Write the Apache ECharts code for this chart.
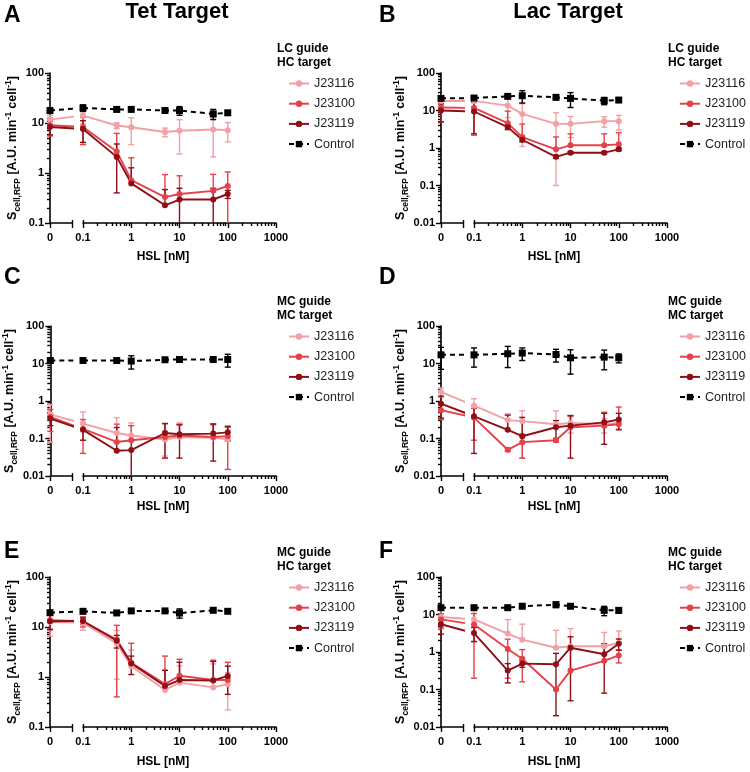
<!DOCTYPE html>
<html>
<head>
<meta charset="utf-8">
<script src="https://cdn.jsdelivr.net/npm/echarts@6/dist/echarts.min.js"></script>
<style>
  html, body { margin: 0; background: #fff; }
  #chart { width: 750px; height: 772px; }
</style>
</head>
<body>
<div id="chart"></div>
<script>
// HSL doses (nM); 0 sits on its own axis segment before the break
const doses = [0, 0.1, 0.5, 1, 5, 10, 50, 100];
const names = ['J23116', 'J23100', 'J23119', 'Control'];
const xTicks = [0.1, 1, 10, 100, 1000];

// A - Tet target, LC guide / HC target
const A_J23116 = [11.7, 14.1, 8.9, 8.2, 6.6, 7.0, 7.4, 7.2];
const A_J23116_sd = [2.5, 4.5, 1.2, 4.5, 1.3, 4.6, 5.3, 3.0];
const A_J23100 = [9.0, 8.3, 2.7, 0.72, 0.33, 0.38, 0.44, 0.55];
const A_J23100_sd = [3.5, 4.6, 3.5, 1.3, 0.6, 0.5, 0.5, 0.5];
const A_J23119 = [8.3, 7.6, 2.1, 0.62, 0.226, 0.295, 0.295, 0.38];
const A_J23119_sd = [2.5, 3.5, 1.7, 0.65, 0.24, 0.2, 0.2, 0.07];
const A_Control = [17.8, 20, 18.7, 18.7, 17.8, 17.8, 15.2, 16];
const A_Control_sd = [2, 3, 1, 1, 1, 3.5, 3.5, 1];

// B - Lac target, LC guide / HC target
const B_J23116 = [18, 18, 13.5, 8.1, 4.4, 4.4, 5.2, 5.2];
const B_J23116_sd = [4, 5, 7, 7, 4.3, 2.5, 1.6, 2.2];
const B_J23100 = [12, 11.7, 4.6, 1.95, 0.92, 1.18, 1.18, 1.25];
const B_J23100_sd = [7, 9.5, 5, 2.4, 1.05, 1.2, 1.2, 1.3];
const B_J23119 = [10, 9.4, 3.6, 1.66, 0.58, 0.75, 0.75, 0.92];
const B_J23119_sd = [5, 7, 0.5, 0.2, 0.05, 0.05, 0.05, 0.08];
const B_Control = [21, 21.5, 23.8, 24.8, 22.4, 21, 18.3, 19];
const B_Control_sd = [2, 2, 1, 9, 1, 9, 4, 1.5];

// C - Tet target, MC guide / MC target
const C_J23116 = [0.44, 0.25, 0.14, 0.12, 0.094, 0.11, 0.105, 0.095];
const C_J23116_sd = [0.36, 0.26, 0.22, 0.14, 0.06, 0.15, 0.12, 0.1];
const C_J23100 = [0.375, 0.18, 0.081, 0.09, 0.11, 0.12, 0.11, 0.115];
const C_J23100_sd = [0.22, 0.14, 0.16, 0.13, 0.14, 0.12, 0.13, 0.1];
const C_J23119 = [0.34, 0.17, 0.047, 0.049, 0.14, 0.13, 0.135, 0.146];
const C_J23119_sd = [0.12, 0.08, 0.15, 0.04, 0.11, 0.1, 0.11, 0.06];
const C_Control = [12, 12, 12, 11.6, 12.6, 12.8, 12.8, 12.8];
const C_Control_sd = [1.5, 0.8, 0.8, 4.5, 1, 1.5, 1, 4.8];

// D - Lac target, MC guide / MC target
const D_J23116 = [1.74, 0.75, 0.31, 0.29, 0.24, 0.26, 0.24, 0.26];
const D_J23116_sd = [0.5, 0.4, 0.15, 0.26, 0.3, 0.12, 0.1, 0.08];
const D_J23100 = [0.57, 0.36, 0.05, 0.08, 0.09, 0.2, 0.22, 0.24];
const D_J23100_sd = [0.25, 0.27, 0.005, 0.05, 0.01, 0.2, 0.28, 0.45];
const D_J23119 = [0.85, 0.39, 0.17, 0.115, 0.2, 0.22, 0.27, 0.32];
const D_J23119_sd = [0.5, 0.35, 0.25, 0.25, 0.1, 0.19, 0.2, 0.15];
const D_Control = [17, 17, 18.2, 19, 17.4, 14.2, 14.8, 14.2];
const D_Control_sd = [10, 9, 10.4, 7, 6.5, 9, 8, 3.8];

// E - Tet target, MC guide / HC target
const E_J23116 = [12.6, 12.1, 4.7, 1.65, 0.55, 0.77, 0.62, 0.72];
const E_J23116_sd = [6, 3.5, 3.8, 1.8, 0.8, 0.9, 1.2, 0.5];
const E_J23100 = [13.7, 13, 5.6, 1.93, 0.72, 1.06, 0.87, 0.87];
const E_J23100_sd = [5, 3, 5.2, 2.8, 1.9, 1.2, 1.3, 1.1];
const E_J23119 = [13, 13.2, 5.3, 1.87, 0.66, 0.87, 0.85, 1.05];
const E_J23119_sd = [4, 2, 1.5, 0.75, 0.7, 1.1, 1.2, 0.6];
const E_Control = [19.4, 20.6, 19.1, 21, 21, 19, 21.6, 20.6];
const E_Control_sd = [1.5, 2, 1, 1, 1, 4, 2, 1];

// F - Lac target, MC guide / HC target
const F_J23116 = [8.6, 7.4, 3.1, 2.13, 1.3, 1.42, 1.42, 1.74];
const F_J23116_sd = [4.5, 5.5, 4.2, 3.4, 2.5, 2.8, 1.9, 1.9];
const F_J23100 = [7.4, 5.4, 1.2, 0.66, 0.1, 0.32, 0.58, 0.81];
const F_J23100_sd = [3, 5.2, 1, 0.5, 0.005, 0.9, 0.9, 0.3];
const F_J23119 = [5.5, 3.2, 0.32, 0.49, 0.47, 1.3, 0.87, 1.67];
const F_J23119_sd = [2.5, 1.3, 0.17, 0.1, 0.45, 1.25, 0.79, 0.55];
const F_Control = [15.2, 15.2, 15.2, 16.6, 18.3, 16.6, 12.9, 12.9];
const F_Control_sd = [2, 1, 1, 1, 3, 1, 3.6, 2];

const panels = [
  { letter: 'A', title: 'Tet Target', guide: 'LC guide', target: 'HC target', yMin: 0.1,
    means: [A_J23116, A_J23100, A_J23119, A_Control], sds: [A_J23116_sd, A_J23100_sd, A_J23119_sd, A_Control_sd] },
  { letter: 'B', title: 'Lac Target', guide: 'LC guide', target: 'HC target', yMin: 0.01,
    means: [B_J23116, B_J23100, B_J23119, B_Control], sds: [B_J23116_sd, B_J23100_sd, B_J23119_sd, B_Control_sd] },
  { letter: 'C', guide: 'MC guide', target: 'MC target', yMin: 0.01,
    means: [C_J23116, C_J23100, C_J23119, C_Control], sds: [C_J23116_sd, C_J23100_sd, C_J23119_sd, C_Control_sd] },
  { letter: 'D', guide: 'MC guide', target: 'MC target', yMin: 0.01,
    means: [D_J23116, D_J23100, D_J23119, D_Control], sds: [D_J23116_sd, D_J23100_sd, D_J23119_sd, D_Control_sd] },
  { letter: 'E', guide: 'MC guide', target: 'HC target', yMin: 0.1,
    means: [E_J23116, E_J23100, E_J23119, E_Control], sds: [E_J23116_sd, E_J23100_sd, E_J23119_sd, E_Control_sd] },
  { letter: 'F', guide: 'MC guide', target: 'HC target', yMin: 0.01,
    means: [F_J23116, F_J23100, F_J23119, F_Control], sds: [F_J23116_sd, F_J23100_sd, F_J23119_sd, F_Control_sd] }
];

// layout
const colors = ['#f2a0a5', '#e6414a', '#8e0f16', '#000000'];
const FONT = '"Liberation Sans", Arial, sans-serif';
const colX = [50, 441];
const rowTop = [73, 326, 577];
const letterY = [16, 278, 552];
const xNameY = [257, 507, 762];
const plotH = 150, segW = 22, logStart = 33, logEnd = 226;
const brk = segW / logStart; // end of the "0" segment, in units where 0.1 sits at 1

function decades(lo, hi) {
  const out = [];
  for (let e = Math.round(Math.log10(lo)); e <= Math.round(Math.log10(hi)); e++) out.push(+Math.pow(10, e).toPrecision(6));
  return out;
}
function minorTicks(lo, hi) {
  const out = [];
  decades(lo, hi).slice(0, -1).forEach(d => {
    for (let k = 2; k <= 9; k++) out.push(+(d * k).toPrecision(6));
  });
  return out;
}
const fmt = v => String(+(+v).toPrecision(6));

const axisLine = { show: true, onZero: false, lineStyle: { color: '#000', width: 1.6 } };
const tickStyle = { color: '#000', width: 1.4 };
const labelStyle = { fontFamily: FONT, fontWeight: 'bold', fontSize: 11, color: '#000' };

function errorBars(xi, yi, data, color, yMin) {
  return {
    type: 'custom', xAxisIndex: xi, yAxisIndex: yi, data, silent: true, animation: false, z: 2,
    renderItem(params, api) {
      const x = api.value(0), mean = api.value(1), sd = api.value(2);
      const mid = api.coord([x, mean]);
      const hi = api.coord([x, mean + sd]);
      const w = 3;
      const style = { stroke: color, lineWidth: 1.4 };
      const children = [
        { type: 'line', shape: { x1: mid[0], y1: mid[1], x2: hi[0], y2: hi[1] }, style },
        { type: 'line', shape: { x1: hi[0] - w, y1: hi[1], x2: hi[0] + w, y2: hi[1] }, style }
      ];
      if (mean - sd > 0) {
        const lo = api.coord([x, Math.max(mean - sd, yMin)]);
        children.push({ type: 'line', shape: { x1: mid[0], y1: mid[1], x2: lo[0], y2: lo[1] }, style });
        if (mean - sd >= yMin) {
          children.push({ type: 'line', shape: { x1: lo[0] - w, y1: lo[1], x2: lo[0] + w, y2: lo[1] }, style });
        }
      }
      return { type: 'group', children };
    }
  };
}

const grid = [], xAxis = [], yAxis = [], series = [], legend = [], graphic = [];

panels.forEach((p, i) => {
  const col = i % 2, row = Math.floor(i / 2);
  const x0 = colX[col], top = rowTop[row];
  const gL = grid.length, gR = gL + 1;
  grid.push({ left: x0, top, width: segW, height: plotH });
  grid.push({ left: x0 + logStart, top, width: logEnd - logStart, height: plotH });

  const yMajor = decades(p.yMin, 100);
  const xb = xAxis.length, yb = yAxis.length;
  const hidden = { axisLine: { show: false }, axisLabel: { show: false }, splitLine: { show: false } };

  // x axes: "0" segment, its break cap, log segment, minor ticks, break cap
  xAxis.push({ gridIndex: gL, type: 'value', position: 'bottom', min: 0, max: brk, axisLine,
    axisTick: { customValues: [0, brk], length: 5, lineStyle: tickStyle },
    axisLabel: { customValues: [0], formatter: () => '0', margin: 9, ...labelStyle }, splitLine: { show: false } });
  xAxis.push({ gridIndex: gL, type: 'value', position: 'bottom', min: 0, max: brk, ...hidden,
    axisTick: { inside: true, customValues: [brk], length: 3, lineStyle: tickStyle } });
  xAxis.push({ gridIndex: gR, type: 'log', position: 'bottom', min: 0.1, max: 1000, axisLine,
    axisTick: { customValues: xTicks, length: 5, lineStyle: tickStyle },
    axisLabel: { customValues: xTicks, formatter: fmt, margin: 9, ...labelStyle }, splitLine: { show: false } });
  xAxis.push({ gridIndex: gR, type: 'log', position: 'bottom', min: 0.1, max: 1000, ...hidden,
    axisTick: { customValues: minorTicks(0.1, 1000), length: 3, lineStyle: tickStyle } });
  xAxis.push({ gridIndex: gR, type: 'log', position: 'bottom', min: 0.1, max: 1000, ...hidden,
    axisTick: { inside: true, customValues: [0.1], length: 3, lineStyle: tickStyle } });

  // y axes
  yAxis.push({ gridIndex: gL, type: 'log', position: 'left', min: p.yMin, max: 100, axisLine,
    axisTick: { customValues: yMajor, length: 5, lineStyle: tickStyle },
    axisLabel: { customValues: yMajor, formatter: fmt, margin: 6, ...labelStyle }, splitLine: { show: false },
    name: 'S{sub|cell,RFP} [A.U. min{sup|-1} cell{sup|-1}]', nameLocation: 'middle', nameRotate: 90, nameGap: 28,
    nameTextStyle: { fontFamily: FONT, fontWeight: 'bold', fontSize: 12.5, color: '#000', lineHeight: 18,
      rich: { sub: { fontFamily: FONT, fontWeight: 'bold', fontSize: 8.5, lineHeight: 9, verticalAlign: 'bottom' },
              sup: { fontFamily: FONT, fontWeight: 'bold', fontSize: 8.5, lineHeight: 9, verticalAlign: 'top' } } } });
  yAxis.push({ gridIndex: gL, type: 'log', position: 'left', min: p.yMin, max: 100, ...hidden,
    axisTick: { customValues: minorTicks(p.yMin, 100), length: 3, lineStyle: tickStyle } });
  yAxis.push({ gridIndex: gR, type: 'log', position: 'left', min: p.yMin, max: 100, show: false });

  names.forEach((name, k) => {
    const m = p.means[k], sd = p.sds[k];
    const ctrl = k === 3;
    const common = {
      type: 'line', name, animation: false, z: 3,
      symbol: ctrl ? 'rect' : 'circle', symbolSize: ctrl ? 7 : 6,
      itemStyle: { color: colors[k] },
      lineStyle: { color: colors[k], width: ctrl ? 2 : 1.9, type: ctrl ? [5, 4] : 'solid' }
    };
    series.push(errorBars(xb, yb, [[0, m[0], sd[0]]], colors[k], p.yMin));
    series.push(errorBars(xb + 2, yb + 2, doses.slice(1).map((d, j) => [d, m[j + 1], sd[j + 1]]), colors[k], p.yMin));
    series.push({ ...common, xAxisIndex: xb, yAxisIndex: yb, clip: true, data: [[0, m[0]], [1, m[1]]] });
    series.push({ ...common, xAxisIndex: xb + 2, yAxisIndex: yb + 2, data: doses.slice(1).map((d, j) => [d, m[j + 1]]) });
  });

  legend.push({ orient: 'vertical', left: x0 + 238, top: top + 4, padding: 0, itemWidth: 20, itemHeight: 8, itemGap: 7.2,
    selectedMode: false, data: names, textStyle: { fontFamily: FONT, fontSize: 12.5, color: '#222' } });

  const txt = (x, y, text, size, align) => ({ type: 'text', x, y, silent: true,
    style: { text, font: 'bold ' + size + 'px ' + FONT, fill: '#000', textAlign: align || 'left', textVerticalAlign: 'middle' } });
  graphic.push(txt(col ? 379 : 4, letterY[row], p.letter, 23));
  if (p.title) graphic.push(txt(x0 + 127, 12, p.title, 22, 'center'));
  graphic.push(txt(x0 + 227, top - 24, p.guide, 12));
  graphic.push(txt(x0 + 227, top - 10, p.target, 12));
  graphic.push(txt(x0 + 113, xNameY[row], 'HSL [nM]', 12, 'center'));
});

const chart = echarts.init(document.getElementById('chart'));
chart.setOption({
  animation: false,
  textStyle: { fontFamily: FONT },
  grid, xAxis, yAxis, series, legend, graphic
});
</script>
</body>
</html>
